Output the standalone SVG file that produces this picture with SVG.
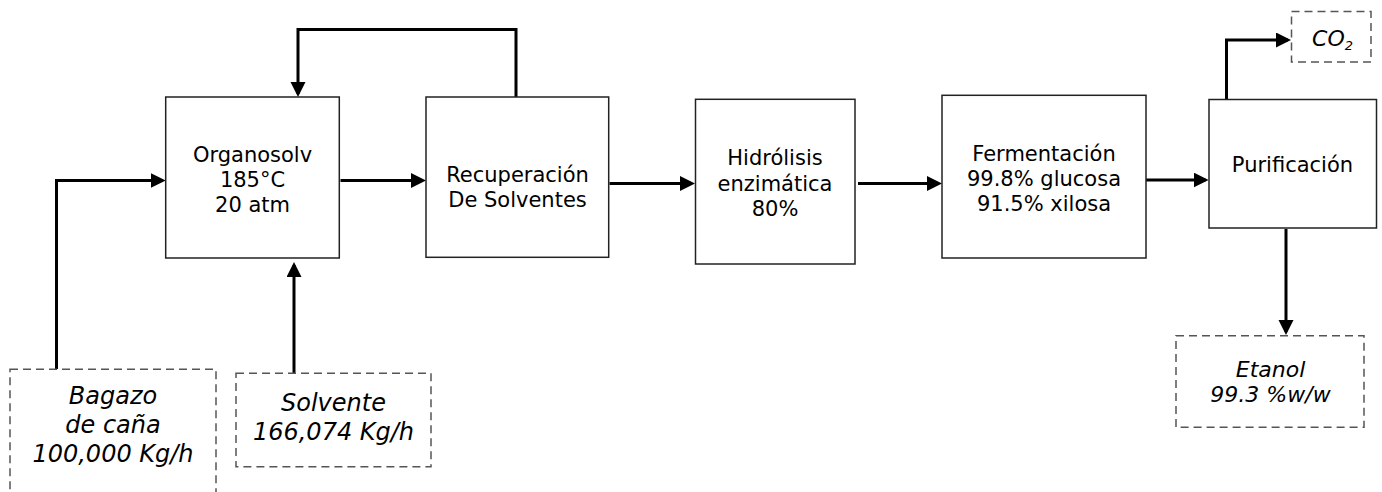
<svg xmlns="http://www.w3.org/2000/svg" width="1382" height="492" viewBox="0 0 1382 492">
<style>
.proc{fill:#fff;stroke:#222;stroke-width:1.5}
.feed{fill:#fff;stroke:#555;stroke-width:1.5;stroke-dasharray:8 5}
.t{font-family:"DejaVu Sans",Verdana,sans-serif;font-size:21px;fill:#000;text-anchor:middle}
.i{font-family:"DejaVu Sans",Verdana,sans-serif;font-style:italic;font-size:24px;fill:#000;text-anchor:middle}
.c{fill:none;stroke:#000;stroke-width:3;stroke-linejoin:miter}
</style>
<defs>
<marker id="ah" markerUnits="userSpaceOnUse" markerWidth="16" markerHeight="16" refX="12" refY="7.5" orient="auto">
<path d="M0,0 L15,7.5 L0,15 z" fill="#000"/>
</marker>
</defs>
<g id="connectors">
<path class="c" d="M516,97 V29.5 H298 V94" marker-end="url(#ah)"/>
<path class="c" d="M56.5,369 V180.5 H162.7" marker-end="url(#ah)"/>
<path class="c" d="M294,373 V265" marker-end="url(#ah)"/>
<path class="c" d="M340.5,180.5 H423" marker-end="url(#ah)"/>
<path class="c" d="M609.5,183.5 H692" marker-end="url(#ah)"/>
<path class="c" d="M858,183.5 H939" marker-end="url(#ah)"/>
<path class="c" d="M1144,180 H1205.6" marker-end="url(#ah)"/>
<path class="c" d="M1226.5,101 V40 H1288" marker-end="url(#ah)"/>
<path class="c" d="M1286,229 V332" marker-end="url(#ah)"/>
</g>
<g id="organosolv">
<rect class="proc" x="165.7" y="97" width="173.6" height="161"/>
<text class="t" x="252.5" y="161.5">Organosolv</text>
<text class="t" x="252.5" y="187">185°C</text>
<text class="t" x="252.5" y="212">20 atm</text>
</g>
<g id="recuperacion">
<rect class="proc" x="426" y="97" width="182.7" height="160.3"/>
<text class="t" x="517.5" y="181.5">Recuperación</text>
<text class="t" x="517.5" y="206.5">De Solventes</text>
</g>
<g id="hidrolisis">
<rect class="proc" x="695.5" y="99.3" width="159.5" height="164.7"/>
<text class="t" x="775" y="165">Hidrólisis</text>
<text class="t" x="775" y="190.5">enzimática</text>
<text class="t" x="775" y="215.5">80%</text>
</g>
<g id="fermentacion">
<rect class="proc" x="942" y="95.3" width="204" height="162.7"/>
<text class="t" x="1044" y="161">Fermentación</text>
<text class="t" x="1044" y="185.7">99.8% glucosa</text>
<text class="t" x="1044" y="210.7">91.5% xilosa</text>
</g>
<g id="purificacion">
<rect class="proc" x="1209" y="99.5" width="167.5" height="128.5"/>
<text class="t" x="1292.5" y="172">Purificación</text>
</g>
<g id="co2">
<rect class="feed" x="1291.5" y="11.5" width="79.5" height="50.5"/>
<text class="i" x="1332.5" y="46" style="font-size:22px">CO<tspan dy="4" style="font-size:13px">2</tspan></text>
</g>
<g id="bagazo">
<rect class="feed" x="10" y="369.3" width="206" height="140"/>
<text class="i" x="113" y="404">Bagazo</text>
<text class="i" x="113" y="433">de caña</text>
<text class="i" x="113" y="462">100,000 Kg/h</text>
</g>
<g id="solvente">
<rect class="feed" x="236" y="373.3" width="195" height="93.4"/>
<text class="i" x="333.5" y="411">Solvente</text>
<text class="i" x="333.5" y="440">166,074 Kg/h</text>
</g>
<g id="etanol">
<rect class="feed" x="1176" y="335.7" width="188" height="91.6"/>
<text class="i" x="1270.5" y="377.3" style="font-size:22px">Etanol</text>
<text class="i" x="1270.5" y="401.7" style="font-size:22px">99.3 %w/w</text>
</g>
</svg>
